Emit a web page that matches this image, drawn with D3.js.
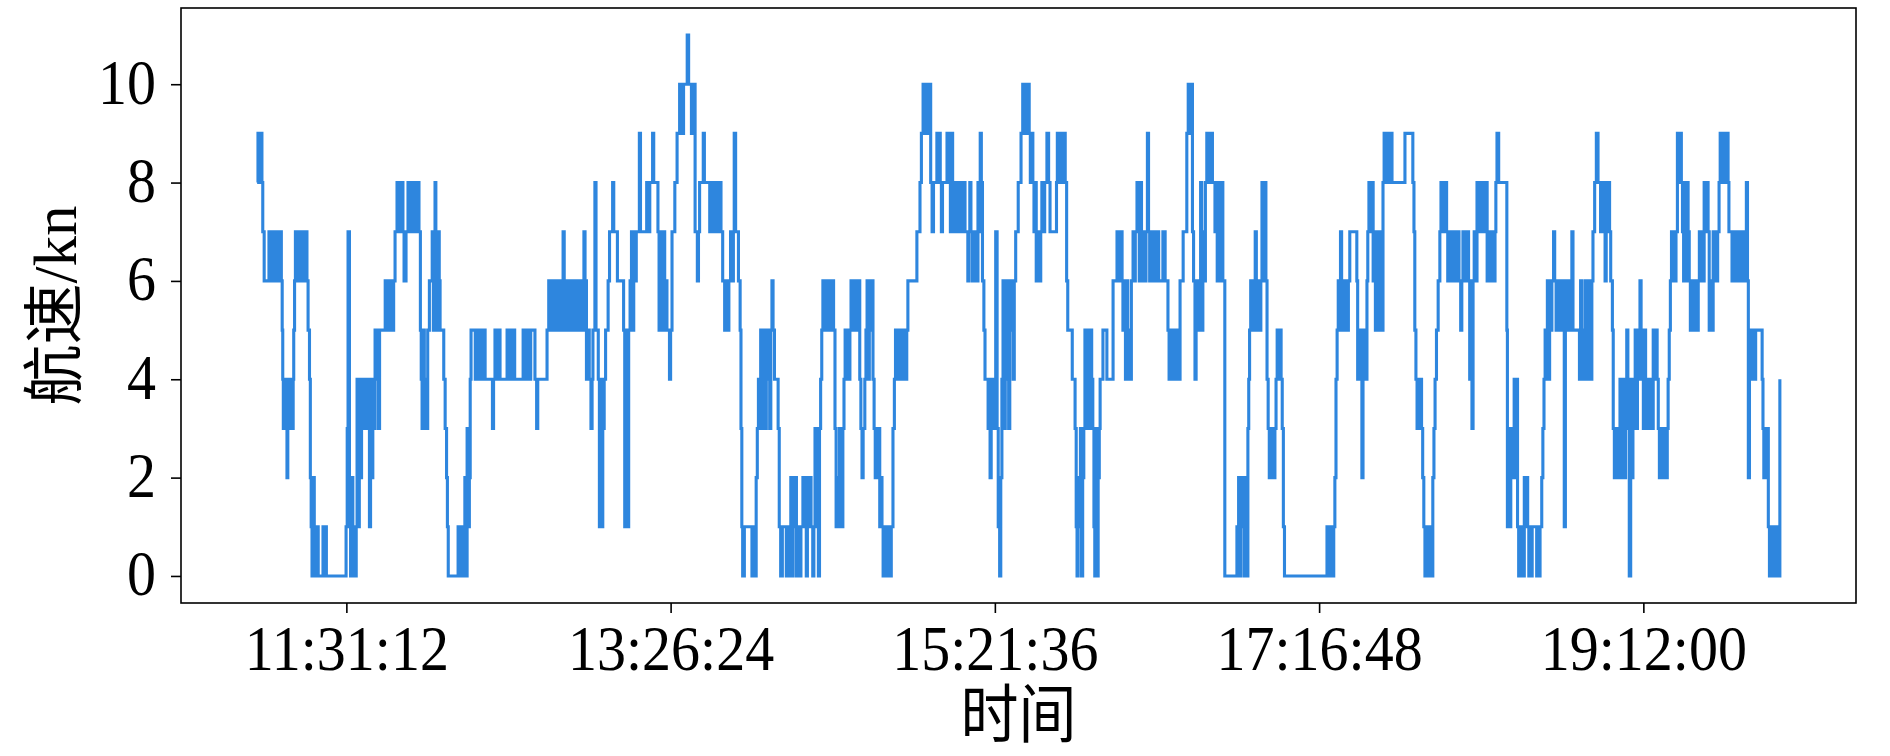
<!DOCTYPE html>
<html>
<head>
<meta charset="utf-8">
<script src="https://cdn.jsdelivr.net/npm/d3@7/dist/d3.min.js"></script>
<style>
  html, body { margin: 0; padding: 0; background: #fff; }
  svg text { font-family: "Liberation Serif", "Times New Roman", "Noto Sans CJK SC", serif; fill: #000; }
</style>
</head>
<body>
<div id="draw_svg"></div>
<script>
// 起始时刻，航速记录里的时间都是距它的分钟数
const startClock = '10:59:30';

// [分钟, 航速kn]，按图读出的变化点，阶梯连接
const speedTrack = [
  [0,8],[0.3,9],[1.0,8],[1.3,9],[1.7,8],[2.0,7],[2.5,6],
  [4.2,7],[4.8,6],[5.5,7],[6.0,6],[7.1,7],[7.6,6],[8.2,7],[8.6,6],[8.9,5],[9.1,4],[9.3,3],
  [9.8,4],[10.2,3],[10.6,2],[10.9,3],[11.3,4],[11.7,3],[12.1,4],[12.5,3],[12.8,4],[13.0,5],[13.3,6],
  [13.6,7],[14.1,6],[14.5,7],[15.0,6],[15.4,7],[15.9,6],[16.3,7],[16.8,6],[17.2,7],[17.7,6],[18.1,5],[18.6,4],[18.9,2],
  [19.2,1],[19.5,0],[19.9,2],[20.3,0],[20.7,1],[21.1,0],[21.4,1],[21.7,0],
  [23.4,1],[24.0,0],[24.3,1],[24.6,0],
  [31.6,1],[32.0,3],[32.3,7],[32.8,1],[33.2,0],[33.6,2],[34.0,0],[34.4,1],[34.8,0],[35.2,1],
  [35.5,4],[35.9,1],[36.3,4],[36.7,2],[37.1,4],[37.5,3],[37.9,4],[38.3,3],[38.7,4],[39.1,3],[39.5,4],[39.9,1],[40.3,4],[40.7,2],[41.1,4],[41.5,3],[41.9,5],[42.3,4],[42.7,5],[43.1,3],[43.5,5],
  [45.5,6],[46.0,5],[46.5,6],[47.0,5],[47.5,6],[48.0,5],[48.5,6],[49.0,7],[49.7,8],[50.1,7],[50.5,8],[50.9,7],[51.3,8],[51.8,7],[52.2,6],[52.9,7],[53.6,8],[54.0,7],[54.4,8],[54.8,7],[55.2,8],[55.7,7],[56.1,8],[56.6,7],[57.0,8],[57.5,7],
  [58.0,5],[58.3,4],[58.6,3],[59.0,5],[59.4,3],[59.8,4],[60.2,3],[60.6,5],[61.2,6],[62.2,7],[62.6,5],[63.0,7],[63.2,8],[63.5,7],[63.9,5],[64.3,7],[64.7,6],[65.0,5],[66.3,4],[66.8,3],[67.3,2],[67.6,1],[67.9,0],
  [71.4,1],[71.8,0],[72.2,1],[72.6,0],[73.0,1],[73.4,0],[73.8,2],[74.2,0],[74.6,3],[75.0,1],[75.4,2],[75.7,4],
  [76.0,5],[77.5,4],[78.0,5],[78.5,4],[79.2,5],[79.8,4],[80.4,5],[81.0,4],[83.6,3],[84.0,4],[84.5,5],[85.0,4],[85.5,5],[86.3,4],[88.8,5],[89.3,4],[89.8,5],[90.3,4],[90.9,5],[91.5,4],[94.5,5],[95.2,4],[95.8,5],[96.5,4],[97.2,5],[98.7,4],[99.3,3],[99.7,4],
  [103.0,5],[103.6,6],[104.4,5],[105.0,6],[105.9,5],[106.5,6],[107.4,5],[108.0,6],[108.4,5],[108.7,7],[109.1,6],[109.8,5],[110.4,6],[111.3,5],[111.9,6],[112.8,5],[113.4,6],[114.3,5],[114.9,6],[115.8,5],[116.1,7],[116.5,6],
  [117.0,4],[117.6,5],[118.0,4],[118.6,3],[119.0,4],[119.3,5],[120.0,8],[120.4,5],[121.2,4],[121.6,1],[122.0,4],[122.4,1],[122.8,3],[123.3,4],[123.8,5],[124.7,6],[125.2,7],[126.3,8],[126.7,7],[128.0,6],[130.2,5],[130.6,1],[131.0,5],[131.4,1],[132.0,5],[132.5,6],[133.0,7],[133.4,5],[133.8,7],[134.2,6],[134.7,7],
  [135.8,9],[136.2,7],[138.4,8],[139.0,7],[139.5,8],[140.5,9],[140.9,8],[142.4,7],[142.8,5],[143.2,7],[143.6,6],[144.0,5],[144.4,7],[144.8,5],[145.2,6],[145.6,5],[146.5,4],[146.9,5],
  [147.4,7],[148.4,8],[149.2,9],[150.1,10],[151.0,9],[151.5,10],[152.8,11],[153.3,10],[154.3,9],[154.8,10],[155.6,7],[156.4,6],[156.8,7],[157.2,8],[158.5,9],[158.9,8],[160.8,7],[161.3,8],[161.8,7],[162.3,8],[162.8,7],[163.3,8],[163.8,7],[164.3,8],[164.8,7],[165.4,6],[166.1,5],
  [166.6,6],[167.1,5],[167.6,6],[168.2,7],[168.7,6],[169.2,7],[169.5,9],[170.0,7],[171.0,6],[171.6,5],[171.9,3],[172.2,1],[172.5,0],[173.1,1],[175.8,0],[176.2,1],[176.9,0],
  [177.3,2],[177.7,3],[178.1,4],[178.5,3],[178.9,5],[179.3,3],[179.7,4],[180.1,5],[180.5,3],[180.9,5],[181.3,4],[181.7,5],[182.1,3],[182.5,5],[182.9,6],[183.3,5],[183.8,4],[185.1,3],[185.5,1],[186.0,0],
  [186.6,1],[188.0,0],[188.5,1],[189.2,0],[189.6,2],[190.0,0],[190.4,2],[190.8,1],[191.2,2],[191.6,0],[192.0,1],[192.8,0],[193.2,1],[193.9,2],[194.3,1],[194.7,2],[195.1,0],[195.5,2],[195.9,1],[196.4,2],[196.8,1],[197.4,0],[197.8,1],[198.2,3],[198.6,1],[199.0,3],[199.4,0],[199.8,3],
  [200.2,4],[200.6,5],[201.0,6],[201.5,5],[201.9,6],[202.3,5],[202.7,6],[203.1,5],[203.5,6],[203.9,5],[204.3,6],[204.8,5],[205.3,3],[205.7,1],[206.1,2],[206.5,1],[206.9,3],[207.3,2],[207.7,1],[208.1,3],
  [208.5,4],[208.9,5],[209.3,4],[209.7,5],[210.1,4],[210.6,5],[211.0,6],[211.4,5],[211.8,6],[212.2,5],[212.6,6],[213.0,5],[213.4,6],[214.1,4],[214.5,3],[214.9,2],[215.3,3],[215.9,4],
  [216.3,5],[216.7,6],[217.1,4],[217.5,6],[217.9,5],[218.3,6],[218.8,4],[219.2,3],[219.6,2],[220.0,3],[220.4,2],[220.8,3],[221.2,1],[221.6,2],[222.0,1],
  [222.4,0],[222.8,1],[223.2,0],[223.6,1],[224.0,0],[224.4,1],[224.8,0],[225.3,1],
  [225.9,3],[226.4,4],[226.8,5],[227.2,4],[227.6,5],[228.0,4],[228.4,5],[228.8,4],[229.2,5],[229.6,4],[230.0,5],[230.4,4],[230.8,5],[231.2,6],[234.4,7],[235.5,8],[236.0,9],
  [236.6,10],[237.3,9],[237.7,10],[238.5,9],[238.9,10],[239.3,8],[239.8,7],[240.3,8],[241.5,9],[241.9,8],[242.3,9],[242.7,8],[243.1,7],[243.5,8],[245.1,9],[245.5,8],[245.9,9],[246.3,7],[246.7,9],[247.1,8],
  [247.5,7],[247.9,8],[248.3,7],[248.7,8],[249.1,7],[249.5,8],[249.9,7],[250.3,8],[250.7,7],[251.1,8],[251.5,7],[252.5,6],[252.8,7],
  [253.2,8],[253.6,7],[254.0,6],[254.4,7],[254.8,6],[255.2,7],[255.7,6],[256.1,8],[256.5,7],[256.9,9],[257.3,8],[257.7,6],[258.2,5],[258.6,4],
  [259.7,3],[260.1,4],[260.4,2],[260.8,3],[261.2,4],[261.6,3],[262.0,4],[262.4,7],[262.9,3],[263.3,1],[263.8,0],[264.2,2],[264.6,4],
  [265.0,6],[265.4,3],[265.8,6],[266.2,4],[266.6,6],[267.0,3],[267.4,6],[267.8,5],[268.2,6],[268.6,4],[269.0,6],[269.5,7],[270.4,8],[271.4,9],
  [272.0,10],[272.5,9],[273.0,10],[273.5,9],[273.9,10],[274.3,9],[274.7,8],[275.1,9],[275.6,8],[276.0,7],[276.4,8],[276.8,6],[277.4,7],[277.8,6],[278.4,7],
  [278.8,8],[279.3,7],[279.8,8],[280.6,9],[281.2,8],[281.7,7],[284.0,8],[284.3,9],[284.7,8],[285.1,9],[285.5,8],[285.9,9],[286.3,8],[286.7,9],[287.1,8],
  [287.6,6],[288.0,5],[289.6,4],[290.6,3],[291.0,1],[291.3,0],[291.7,2],[292.1,1],[292.5,3],[292.9,0],[293.3,2],
  [293.7,3],[294.1,5],[294.5,3],[294.9,4],[295.3,5],[295.7,3],[296.1,5],[296.5,4],[296.9,3],[297.3,1],[297.6,0],[298.0,3],[298.4,0],[298.8,2],[299.2,3],
  [299.5,4],[300.5,5],[301.9,4],[304.1,6],[305.5,7],[306.3,6],[306.7,7],[307.3,6],[307.6,5],[308.0,6],[308.5,4],[308.9,6],[309.3,4],[309.7,5],[310.1,4],[310.6,6],
  [311.2,7],[311.6,6],[312.0,7],[312.6,8],[313.0,7],[313.4,6],[313.8,8],[314.2,7],[314.6,6],[315.0,7],[315.4,6],[315.8,7],[316.3,9],[316.7,7],
  [317.1,6],[317.5,7],[317.9,6],[318.3,7],[318.7,6],[319.1,7],[319.5,6],[319.9,7],[320.3,6],[321.8,7],[322.6,6],
  [323.6,5],[324.0,4],[324.4,5],[324.8,4],[325.2,5],[325.6,4],[326.0,5],[326.4,4],[326.8,5],[327.2,4],[327.9,6],[329.0,7],
  [330.3,9],[330.8,10],[331.3,9],[331.7,10],[332.3,7],[332.7,6],[333.2,4],[333.6,5],[334.0,6],[334.4,5],[334.8,6],
  [335.2,8],[335.6,5],[336.0,7],[336.4,6],[336.9,8],[337.4,9],[337.8,8],[338.2,9],[338.6,8],[339.0,9],[339.4,8],[340.3,7],[340.7,8],[341.1,6],[341.5,8],[341.9,7],[342.3,6],[342.7,8],[343.1,6],
  [343.8,0],[348.1,1],[348.7,2],[349.1,0],[349.5,2],[349.9,1],[350.3,2],[350.7,0],[351.1,2],[351.5,0],
  [352.0,3],[352.3,4],[352.6,5],[353.0,6],[353.4,5],[353.8,6],[354.2,5],[354.6,7],[355.0,6],[355.4,5],[355.8,6],[356.2,5],[356.6,6],[357.0,8],[357.5,6],[358.0,8],[358.4,6],
  [358.8,4],[359.2,3],[359.6,2],[360.0,3],[360.4,2],[360.8,3],[361.2,2],[361.6,3],[362.0,4],[362.4,5],[362.8,4],[363.2,5],[363.8,4],[364.2,3],[364.6,1],[365.0,0],
  [380.1,1],[380.5,0],[380.9,1],[381.3,0],[381.7,1],[382.1,0],[382.5,1],[382.9,2],[383.3,4],[383.7,5],[384.1,6],
  [384.5,5],[384.9,7],[385.3,6],[385.7,5],[386.1,6],[386.5,5],[386.9,6],[387.3,5],[387.7,6],[388.2,7],
  [390.7,6],[391.0,4],[391.4,5],[391.8,4],[392.2,5],[392.5,2],[392.9,4],[393.3,5],[393.8,4],[394.3,6],[394.6,7],[395.0,8],[395.5,7],[396.0,8],[396.5,6],
  [396.9,7],[397.3,5],[397.7,7],[398.1,6],[398.5,5],[398.9,7],[399.3,6],[399.7,5],
  [400.0,8],[400.4,9],[400.8,8],[401.2,9],[401.6,8],[402.0,9],[402.4,8],[402.8,9],[403.2,8],[407.8,9],[410.6,8],
  [411.0,7],[411.3,5],[411.7,4],[412.1,3],[412.5,4],[412.9,3],[413.3,4],[413.7,3],[414.1,2],[414.5,1],[414.9,0],[415.3,1],[415.7,0],[416.1,1],[416.5,0],[416.9,1],[417.3,0],
  [417.7,2],[418.1,3],[418.5,4],[419.0,5],[419.6,6],
  [420.2,7],[420.6,8],[421.0,7],[421.4,8],[421.8,7],[422.2,8],[422.6,7],[423.0,6],[423.4,7],[423.8,6],[424.2,7],[424.6,6],[425.0,7],[425.4,6],[425.8,7],[426.2,6],[426.6,7],[427.0,6],[427.6,5],[428.0,6],
  [428.4,7],[428.8,6],[429.2,7],[429.6,6],[430.0,7],[430.4,6],[430.8,4],[431.2,6],[431.6,3],[432.0,6],[432.4,7],[432.8,6],
  [433.4,8],[433.8,7],[434.2,8],[434.6,7],[435.0,8],[435.4,7],[435.8,8],[436.2,7],[436.6,8],[437.0,6],[437.4,7],[437.8,6],[438.2,7],[438.6,6],[439.0,7],[439.4,6],[439.8,7],[440.1,8],[440.5,9],[441.1,8],
  [444.0,5],[444.2,1],[444.6,3],[445.0,1],[445.4,3],[445.8,2],[446.2,3],[446.6,4],[447.0,2],[447.4,4],[447.8,1],
  [448.2,0],[448.6,1],[449.0,0],[449.4,1],[449.8,0],[450.2,2],[450.6,1],[451.0,2],[451.4,1],[451.8,0],[452.2,1],[452.6,0],[453.0,1],[454.6,0],[455.0,1],[455.4,0],[455.8,1],
  [456.4,2],[456.8,3],[457.2,4],[457.6,5],[458.0,4],[458.4,6],[458.8,4],[459.2,6],[459.6,5],[460.0,6],[460.6,7],[461.0,6],
  [461.5,5],[461.9,6],[462.3,5],[462.7,6],[463.1,5],[463.5,6],[463.9,5],[464.4,1],[464.8,6],[465.2,5],[465.6,6],[466.0,5],[467.1,7],[467.5,5],
  [469.8,4],[470.2,6],[470.6,4],[471.0,5],[471.4,4],[471.8,6],[472.2,4],[472.6,6],[473.0,4],[473.4,6],[473.8,4],[474.2,6],
  [474.6,7],[475.2,8],[475.8,9],[476.4,8],[477.3,7],[477.7,8],[478.1,7],[478.5,8],[478.9,6],[479.3,8],[479.7,7],[480.1,8],[480.5,7],[480.9,6],
  [481.5,5],[481.8,3],[482.2,2],[482.6,3],[483.0,2],[483.4,3],[483.8,2],[484.2,4],[484.6,2],[485.0,4],[485.4,3],[485.8,2],[486.2,4],[486.6,5],[487.0,3],[487.5,0],[488.0,4],[488.4,2],[488.8,4],[489.2,3],
  [489.6,5],[490.0,3],[490.4,5],[490.8,4],[491.3,6],[491.7,4],[492.1,5],[492.5,3],[492.9,5],
  [493.3,3],[493.7,4],[494.1,3],[494.5,4],[494.9,3],[495.3,4],[495.7,3],[496.0,5],[496.6,4],[497.0,5],[497.4,4],
  [497.8,3],[498.2,2],[498.6,3],[499.0,2],[499.4,3],[499.8,2],[500.2,3],[500.6,2],[501.0,3],
  [501.3,4],[501.7,5],[502.1,6],[502.5,7],[502.9,6],[503.3,7],[503.7,6],[504.1,7],[504.6,9],[505.2,8],[505.6,9],[506.0,8],
  [506.4,7],[506.8,6],[507.2,8],[507.6,6],[508.0,8],[508.4,7],[508.8,6],
  [509.2,5],[509.6,6],[510.0,5],[510.4,6],[510.8,5],[511.2,6],[511.6,5],[512.0,6],[512.4,7],[512.8,6],[513.2,7],[513.6,6],[514.1,8],[514.6,7],[515.0,8],
  [515.5,7],[515.9,5],[516.4,6],[516.8,5],[517.3,7],[517.7,6],[518.1,7],[518.5,6],[518.9,7],
  [519.4,8],[519.8,9],[520.2,8],[520.6,9],[521.0,8],[521.4,9],[521.8,8],[522.2,9],[522.6,8],[522.9,7],
  [524.0,6],[524.4,7],[524.8,6],[525.2,7],[525.6,6],[526.0,7],[526.4,6],[526.8,7],[527.2,6],[527.6,7],[528.0,6],[529.1,8],[529.5,6],
  [529.8,2],[530.2,4],[530.8,5],[531.2,4],[531.6,5],[532.0,4],[532.4,5],[534.7,4],[535.0,3],[535.3,2],[535.7,3],[536.1,2],[536.5,3],
  [536.9,1],[537.3,0],[537.7,1],[538.1,0],[538.5,1],[538.9,0],[539.3,1],[539.7,0],[540.1,1],[540.5,0],[541.0,4]
];

const xTickLabels = ['11:31:12', '13:26:24', '15:21:36', '17:16:48', '19:12:00'];
const yTickValues = [0, 2, 4, 6, 8, 10];
const xTitle = '时间';
const yTitle = '航速/kn';

/**
 * 时刻字符串转成当天的分钟数
 */
clockToMin = (s) => {
    const [h, m, sec] = s.split(':').map(Number);
    return h * 60 + m + sec / 60;
}

/**
 * 画图
 */
drawChart = () => {
    const W = 1890, H = 756;
    const left = 181, right = 1856, top = 8, bottom = 603;
    const stretch = 1.1;   // 原图文字被纵向拉长了一点
    const t0 = clockToMin(startClock);

    const data = speedTrack.map(d => ({ t: t0 + d[0], v: d[1] }));

    // 和 matplotlib 一样两边各留 5%
    const tExt = d3.extent(data, d => d.t);
    const tPad = (tExt[1] - tExt[0]) * 0.05;
    const vExt = d3.extent(data, d => d.v);
    const vPad = (vExt[1] - vExt[0]) * 0.05;

    const x = d3.scaleLinear().domain([tExt[0] - tPad, tExt[1] + tPad]).range([left, right]);
    const y = d3.scaleLinear().domain([vExt[0] - vPad, vExt[1] + vPad]).range([bottom, top]);

    const svg = d3.select('#draw_svg').append('svg')
        .attr('width', W).attr('height', H)
        .style('background', '#fff');

    const line = d3.line()
        .x(d => x(d.t))
        .y(d => y(d.v))
        .curve(d3.curveStepAfter);

    svg.append('path')
        .datum(data)
        .attr('d', line)
        .attr('fill', 'none')
        .attr('stroke', '#2e86de')
        .attr('stroke-width', 3.1)
        .attr('stroke-linejoin', 'miter');

    const xTicks = xTickLabels.map(clockToMin);

    const xAxis = svg.append('g')
        .attr('transform', `translate(0,${bottom})`)
        .call(d3.axisBottom(x).tickValues(xTicks)
            .tickFormat((d, i) => xTickLabels[i])
            .tickSize(10));

    const yAxis = svg.append('g')
        .attr('transform', `translate(${left},0)`)
        .call(d3.axisLeft(y).tickValues(yTickValues)
            .tickSize(10));

    [xAxis, yAxis].forEach(g => {
        g.select('.domain').remove();
        g.selectAll('.tick line').attr('stroke', '#000').attr('stroke-width', 1.6);
        g.selectAll('.tick text').attr('font-size', 58).attr('dy', null)
            .attr('transform', `scale(1,${stretch})`)
            .style('font-family', '"Liberation Serif", "Times New Roman", serif');
    });
    xAxis.selectAll('.tick text').attr('y', 67 / stretch);
    yAxis.selectAll('.tick text').attr('x', -25).attr('y', 19 / stretch);

    svg.append('rect')
        .attr('x', left).attr('y', top)
        .attr('width', right - left).attr('height', bottom - top)
        .attr('fill', 'none').attr('stroke', '#000').attr('stroke-width', 1.6);

    // x 轴标题贴着底边，基线留出字体下沿
    svg.append('text')
        .attr('transform', `translate(${(left + right) / 2},737) scale(1,${stretch})`)
        .attr('text-anchor', 'middle')
        .attr('font-size', 58)
        .text(xTitle);

    svg.append('text')
        .attr('transform', `translate(55,${(top + bottom) / 2}) rotate(-90)`)
        .attr('text-anchor', 'middle')
        .attr('dominant-baseline', 'central')
        .attr('font-size', 61)
        .text(yTitle);
}

window.onload = () => {
    drawChart();
}
</script>
</body>
</html>
